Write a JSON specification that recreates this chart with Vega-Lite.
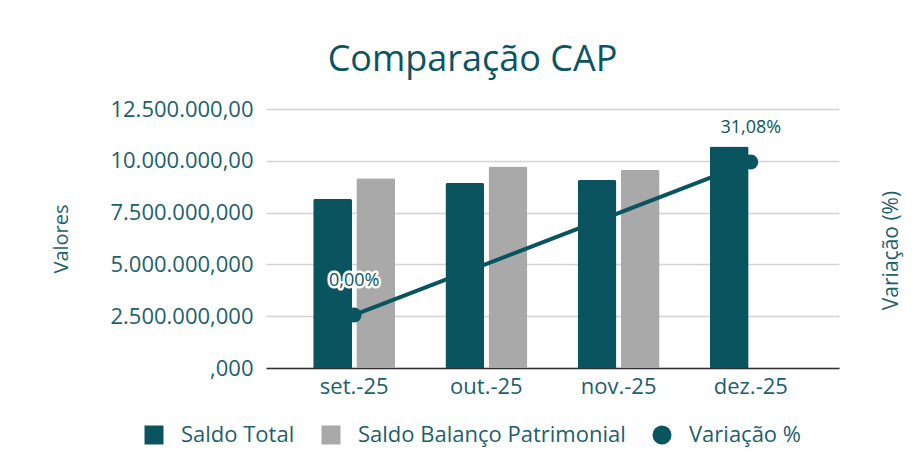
{
  "$schema": "https://vega.github.io/schema/vega-lite/v6.json",
  "width": 573,
  "height": 259,
  "autosize": "none",
  "padding": {"left": 266, "top": 109, "right": 77, "bottom": 96},
  "background": "white",
  "config": {
    "font": "Open Sans",
    "view": {"stroke": null},
    "axis": {"labelFont": "Open Sans", "titleFont": "Open Sans"},
    "legend": {"labelFont": "Open Sans"}
  },
  "title": {
    "text": "Comparação CAP",
    "fontSize": 36,
    "fontWeight": "normal",
    "color": "#0b5460",
    "anchor": "middle",
    "frame": "group",
    "dx": -80,
    "offset": 19
  },
  "data": {
    "values": [
      {"mes": "set.-25", "serie": "Saldo Total", "valor": 8160000},
      {"mes": "set.-25", "serie": "Saldo Balanço Patrimonial", "valor": 9160000},
      {"mes": "out.-25", "serie": "Saldo Total", "valor": 8930000},
      {"mes": "out.-25", "serie": "Saldo Balanço Patrimonial", "valor": 9720000},
      {"mes": "nov.-25", "serie": "Saldo Total", "valor": 9070000},
      {"mes": "nov.-25", "serie": "Saldo Balanço Patrimonial", "valor": 9560000},
      {"mes": "dez.-25", "serie": "Saldo Total", "valor": 10696000},
      {"mes": "set.-25", "serie": "Variação %", "var": 0, "rotulo": "0,00%"},
      {"mes": "dez.-25", "serie": "Variação %", "var": 31.08, "rotulo": "31,08%"}
    ]
  },
  "encoding": {
    "x": {
      "field": "mes",
      "type": "nominal",
      "sort": ["set.-25", "out.-25", "nov.-25", "dez.-25"],
      "scale": {"paddingInner": 0.38, "paddingOuter": 0.357},
      "axis": {
        "title": null,
        "labelAngle": 0,
        "labelFontSize": 22,
        "labelColor": "#1d5f6c",
        "labelPadding": 8,
        "ticks": false,
        "domainColor": "#333333",
        "domainWidth": 1.5
      }
    }
  },
  "layer": [
    {
      "transform": [{"filter": "datum.serie !== 'Variação %'"}],
      "mark": {"type": "bar", "cornerRadiusTopLeft": 2, "cornerRadiusTopRight": 2},
      "encoding": {
        "xOffset": {
          "field": "serie",
          "type": "nominal",
          "scale": {"domain": ["Saldo Total", "Saldo Balanço Patrimonial"], "paddingInner": 0.1}
        },
        "y": {
          "field": "valor",
          "type": "quantitative",
          "scale": {"domain": [0, 12500000], "nice": false},
          "axis": {
            "title": "Valores",
            "titleFontSize": 20,
            "titleFontWeight": "normal",
            "titleColor": "#1d5f6c",
            "titlePadding": 38,
            "values": [0, 2500000, 5000000, 7500000, 10000000, 12500000],
            "labelExpr": "datum.value == 12500000 ? '12.500.000,00' : datum.value == 10000000 ? '10.000.000,00' : datum.value == 7500000 ? '7.500.000,000' : datum.value == 5000000 ? '5.000.000,000' : datum.value == 2500000 ? '2.500.000,000' : ',000'",
            "labelFontSize": 22,
            "labelColor": "#1d5f6c",
            "labelPadding": 13,
            "ticks": false,
            "domain": false,
            "gridColor": "#d3d3d3",
            "gridWidth": 1.5
          }
        },
        "color": {
          "field": "serie",
          "type": "nominal",
          "scale": {
            "domain": ["Saldo Total", "Saldo Balanço Patrimonial", "Variação %"],
            "range": ["#0a5460", "#a9a9a9", "#0a5460"]
          },
          "legend": {
            "title": null,
            "orient": "none",
            "direction": "horizontal",
            "legendX": -123,
            "legendY": 315,
            "padding": 0,
            "symbolSize": 361,
            "symbolType": "square",
            "symbolOpacity": 1,
            "symbolStrokeWidth": 0,
            "labelFontSize": 22,
            "labelColor": "#1d5f6c",
            "labelLimit": 400,
            "labelOffset": 16,
            "columnPadding": 25,
            "encode": {
              "symbols": {
                "update": {
                  "shape": {"signal": "datum.label === 'Variação %' ? 'circle' : 'square'"},
                  "opacity": {"value": 1}
                }
              }
            }
          }
        }
      }
    },
    {
      "transform": [{"filter": "datum.serie === 'Variação %'"}],
      "encoding": {
        "y": {
          "field": "var",
          "type": "quantitative",
          "scale": {"domain": [-10.77, 41.85], "nice": false, "zero": false}
        }
      },
      "layer": [
        {
          "mark": {"type": "line", "strokeWidth": 4},
          "encoding": {
            "color": {"field": "serie", "type": "nominal"},
            "y": {
              "field": "var",
              "type": "quantitative",
              "axis": {
                "orient": "right",
                "title": "Variação (%)",
                "titleFontSize": 21,
                "titleFontWeight": "normal",
                "titleColor": "#1d5f6c",
                "titleAngle": 270,
                "titlePadding": 62,
                "titleY": 141,
                "labels": false,
                "ticks": false,
                "domain": false,
                "grid": false
              }
            }
          }
        },
        {
          "mark": {"type": "point", "filled": true, "size": 220, "opacity": 1, "shape": "circle"},
          "encoding": {"color": {"field": "serie", "type": "nominal"}}
        },
        {
          "mark": {"type": "text", "dy": -34, "fontSize": 18, "stroke": "white", "strokeWidth": 5, "fill": "white", "strokeJoin": "round"},
          "encoding": {"text": {"field": "rotulo"}}
        },
        {
          "mark": {"type": "text", "dy": -34, "fontSize": 18, "fill": "#0b5460"},
          "encoding": {"text": {"field": "rotulo"}}
        }
      ]
    }
  ],
  "resolve": {"scale": {"y": "independent"}}
}
